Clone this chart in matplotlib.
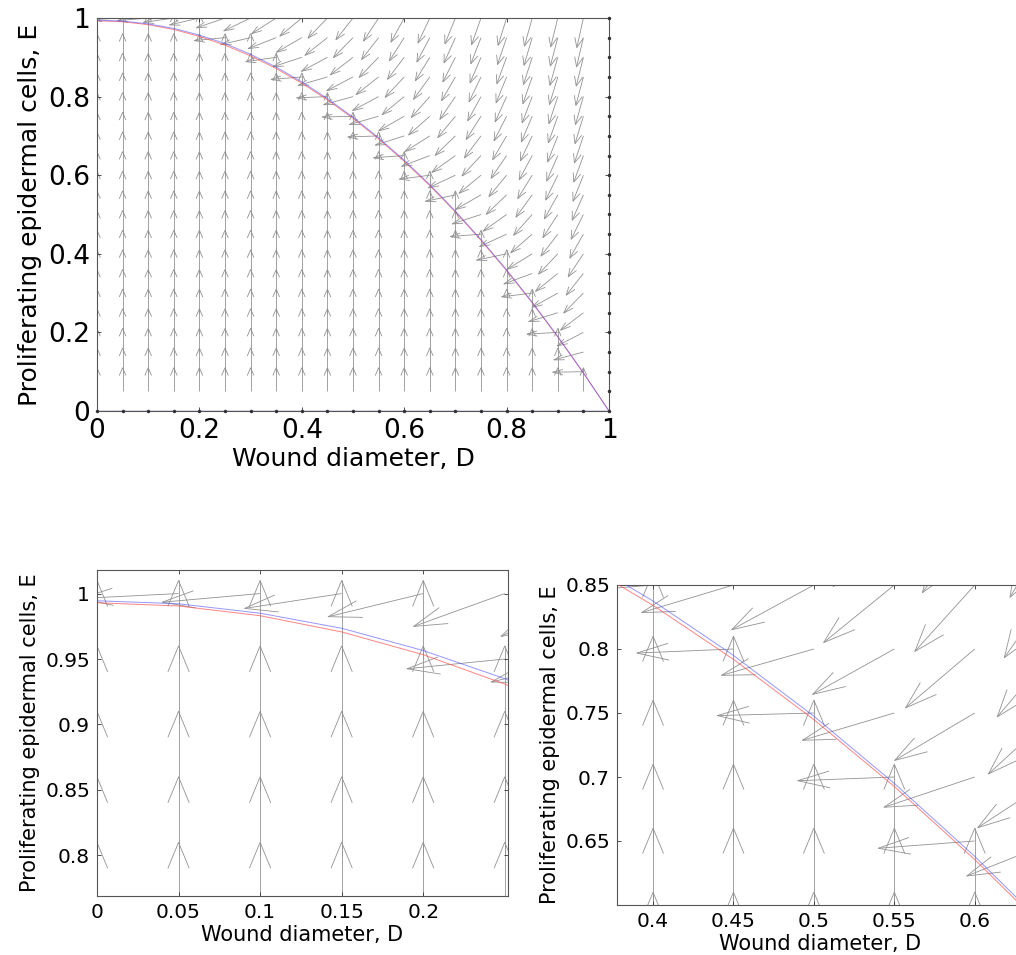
import numpy as np
import matplotlib
matplotlib.use("Agg")
import matplotlib.pyplot as plt
from matplotlib.collections import LineCollection

d_curve = [0.0, 0.05, 0.1, 0.15, 0.2, 0.25, 0.3, 0.35, 0.4, 0.45, 0.5,
           0.55, 0.6, 0.65, 0.7, 0.75, 0.8, 0.85, 0.9, 0.95, 1.0]
e_red = [0.993, 0.9905, 0.9831, 0.9707, 0.9533, 0.9309, 0.9036, 0.8714, 0.8341,
         0.7919, 0.7448, 0.6926, 0.6355, 0.5735, 0.5064, 0.4344, 0.3575, 0.2756,
         0.1887, 0.0968, 0.0]
e_blue = [0.9945, 0.9922, 0.985, 0.9735, 0.9565, 0.935, 0.9075, 0.875, 0.8375,
          0.795, 0.7475, 0.695, 0.638, 0.576, 0.5085, 0.436, 0.359, 0.2765,
          0.1893, 0.097, 0.0]
# second nullcline E = 0
d_axis = [0.0, 1.0]
e_axis = [0.0, 0.0]

# direction field: grid of E values (same spacing as d_curve)
e_grid = d_curve
turn_rate = 6.5      # slope of the field above the nullcline
arrow_len = 0.06     # arrow length at the nullcline
stretch = 0.3        # arrows get a bit longer far above the nullcline

xlabel = "Wound diameter, D"
ylabel = "Proliferating epidermal cells, E"

# build the arrows
D, E = np.meshgrid(d_curve, e_grid)
N = np.meshgrid(e_red, e_grid)[0]
s = E - N
U = np.where(s < 0, 0.0, -1.0)
V = np.where(s < 0, 1.0, -turn_rate * s)
still = (E == 0) | (D == 1)
U[still] = 0.0
V[still] = 0.0
mag = np.hypot(U, V)
mag[mag == 0] = 1.0
L = arrow_len * (1 + stretch * np.clip(s, 0, None))
U = U / mag * L
V = V / mag * L

alpha, beta = 0.33, 0.33
segs = []
moving = ~still
for x, y, u, v in zip(D[moving], E[moving], U[moving], V[moving]):
    tx, ty = x + u, y + v
    segs.append([(x, y), (tx, ty)])
    segs.append([(tx - alpha * (u + beta * v), ty - alpha * (v - beta * u)), (tx, ty),
                 (tx - alpha * (u - beta * v), ty - alpha * (v + beta * u))])


def draw_panel(ax, xlim, ylim, xticks, xtl, yticks, ytl, tick_fs, label_fs):
    ax.add_collection(LineCollection(segs, colors="#929292", linewidths=0.6, zorder=1))
    ax.plot(d_curve, e_red, color="#ff5050", lw=0.7, alpha=0.7, zorder=3)
    ax.plot(d_curve, e_blue, color="#5050ff", lw=0.7, alpha=0.6, zorder=3)
    ax.plot(d_axis, e_axis, color="#5a5aaa", lw=1.0, zorder=3)
    ax.plot(D[still], E[still], ".", color="#333333", markersize=3, zorder=4, clip_on=False)
    ax.set_xlim(*xlim)
    ax.set_ylim(*ylim)
    ax.set_xticks(xticks)
    ax.set_xticklabels(xtl)
    ax.set_yticks(yticks)
    ax.set_yticklabels(ytl)
    ax.tick_params(direction="in", length=3, width=0.6, top=True, right=True,
                   labelsize=tick_fs, pad=5, color="#333333")
    for sp in ax.spines.values():
        sp.set_linewidth(0.8)
        sp.set_color("#555555")
    ax.set_xlabel(xlabel, fontsize=label_fs, labelpad=2)
    ax.set_ylabel(ylabel, fontsize=label_fs, labelpad=4)


fig = plt.figure(figsize=(10.16, 9.55), dpi=100)

ax1 = fig.add_axes([97 / 1016, (955 - 411) / 955, 512 / 1016, 393 / 955])
draw_panel(ax1, (0, 1), (0, 1),
           [0, 0.2, 0.4, 0.6, 0.8, 1], ["0", "0.2", "0.4", "0.6", "0.8", "1"],
           [0, 0.2, 0.4, 0.6, 0.8, 1], ["0", "0.2", "0.4", "0.6", "0.8", "1"],
           19, 18)

ax2 = fig.add_axes([97 / 1016, (955 - 896) / 955, 411 / 1016, 326 / 955])
draw_panel(ax2, (0, 0.252), (0.769, 1.018),
           [0, 0.05, 0.1, 0.15, 0.2], ["0", "0.05", "0.1", "0.15", "0.2"],
           [0.8, 0.85, 0.9, 0.95, 1], ["0.8", "0.85", "0.9", "0.95", "1"],
           14.5, 15)
# dots outside the zoomed window must not show
ax2.lines[-1].set_clip_on(True)

ax3 = fig.add_axes([617 / 1016, (955 - 905) / 955, 406 / 1016, 320 / 955])
draw_panel(ax3, (0.3776, 0.63), (0.6, 0.85),
           [0.4, 0.45, 0.5, 0.55, 0.6], ["0.4", "0.45", "0.5", "0.55", "0.6"],
           [0.65, 0.7, 0.75, 0.8, 0.85], ["0.65", "0.7", "0.75", "0.8", "0.85"],
           14.5, 15)
ax3.lines[-1].set_clip_on(True)

fig.savefig("out.png", dpi=100)
